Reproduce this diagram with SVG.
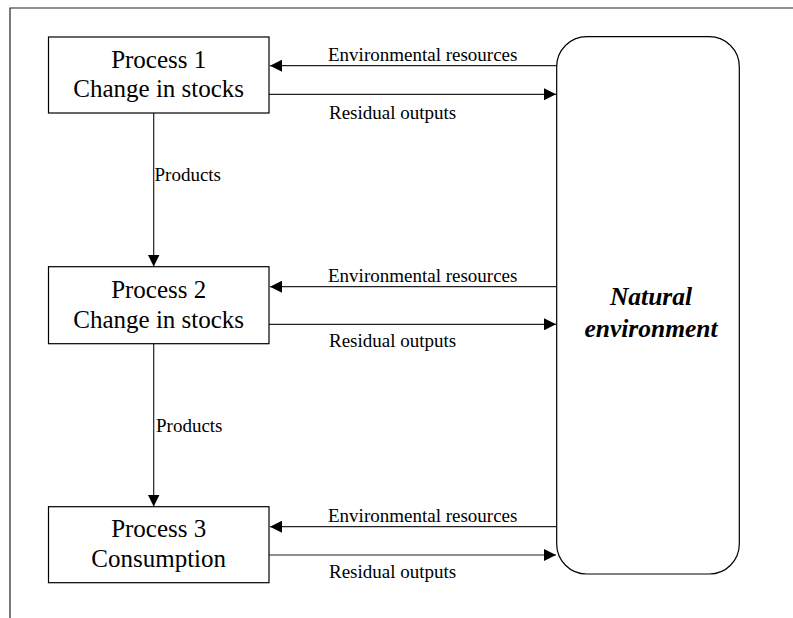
<svg xmlns="http://www.w3.org/2000/svg" width="793" height="618" viewBox="0 0 793 618">
<style>
.box{fill:#fff;stroke:#000;stroke-width:1.2}
.ln{fill:none;stroke:#222;stroke-width:1.2}
.big{font-family:"Liberation Serif","Times New Roman",serif;font-size:25px;fill:#000;text-anchor:middle}
.lbl{font-family:"Liberation Serif","Times New Roman",serif;font-size:19px;fill:#000}
.nat{font-family:"Liberation Serif","Times New Roman",serif;font-size:25.5px;font-weight:bold;font-style:italic;fill:#000;text-anchor:middle}
</style>
<defs>
<marker id="ah" viewBox="0 0 12 12" refX="12" refY="6" markerWidth="12" markerHeight="12" markerUnits="userSpaceOnUse" orient="auto">
<path d="M0,0 L12,6 L0,12 Z" fill="#000"/>
</marker>
</defs>
<rect width="793" height="618" fill="#fff"/>
<g id="frame">
<path class="ln" d="M10,618 V8 H793"/>
</g>
<g id="connectors">
<line class="ln" x1="556.5" y1="65.7" x2="270" y2="65.7" marker-end="url(#ah)"/>
<line class="ln" x1="269" y1="94.3" x2="556" y2="94.3" marker-end="url(#ah)"/>
<line class="ln" x1="556.5" y1="286.7" x2="270" y2="286.7" marker-end="url(#ah)"/>
<line class="ln" x1="269" y1="324.3" x2="556" y2="324.3" marker-end="url(#ah)"/>
<line class="ln" x1="556.5" y1="526.7" x2="270" y2="526.7" marker-end="url(#ah)"/>
<line class="ln" x1="269" y1="555" x2="556" y2="555" marker-end="url(#ah)"/>
<line class="ln" x1="153.7" y1="113" x2="153.7" y2="266.5" marker-end="url(#ah)"/>
<line class="ln" x1="153.7" y1="343.7" x2="153.7" y2="506.5" marker-end="url(#ah)"/>
<text class="lbl" x="328" y="60.7">Environmental resources</text>
<text class="lbl" x="329" y="119">Residual outputs</text>
<text class="lbl" x="328" y="281.7">Environmental resources</text>
<text class="lbl" x="329" y="347.3">Residual outputs</text>
<text class="lbl" x="328" y="521.7">Environmental resources</text>
<text class="lbl" x="329" y="578.3">Residual outputs</text>
<text class="lbl" x="154.5" y="181">Products</text>
<text class="lbl" x="156" y="431.7">Products</text>
</g>
<g id="process1">
<rect class="box" x="48.5" y="37" width="220.5" height="76"/>
<text class="big" x="158.7" y="68">Process 1</text>
<text class="big" x="158.7" y="97">Change in stocks</text>
</g>
<g id="process2">
<rect class="box" x="48.5" y="266.7" width="220.5" height="77"/>
<text class="big" x="158.7" y="298">Process 2</text>
<text class="big" x="158.7" y="328">Change in stocks</text>
</g>
<g id="process3">
<rect class="box" x="48.5" y="506.7" width="220.5" height="76"/>
<text class="big" x="158.7" y="536.7">Process 3</text>
<text class="big" x="158.7" y="566.7">Consumption</text>
</g>
<g id="natural">
<rect class="box" x="556.7" y="36.7" width="182.6" height="537.3" rx="30" ry="30"/>
<text class="nat" x="651" y="305">Natural</text>
<text class="nat" x="651" y="336.7">environment</text>
</g>
</svg>
